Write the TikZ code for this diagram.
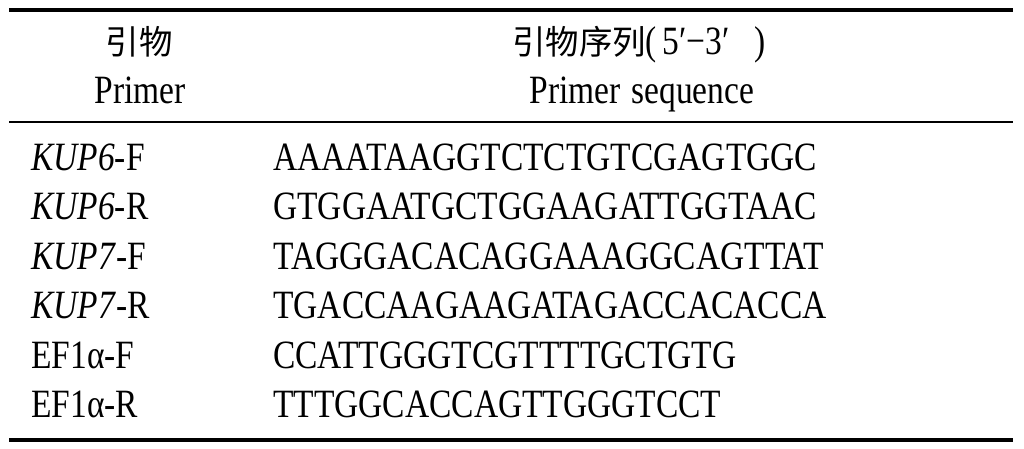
\documentclass[tikz,border=0pt]{standalone}
\usepackage{fontspec}
\setmainfont{Liberation Serif}
\newfontfamily\cjkfont{Noto Sans CJK SC}
\usepackage{graphicx}
\usepackage{tikz}
\usetikzlibrary{positioning}
\newcommand{\tall}[1]{\scalebox{1}[1.2]{#1}}

\begin{document}
\begin{tikzpicture}[line cap=butt,x=0.025cm,y=-0.025cm,
  cell/.style={inner sep=0pt,anchor=base west,font=\fontsize{23.8}{28}\selectfont},
  head/.style={inner sep=0pt,anchor=base,font=\fontsize{23.8}{28}\selectfont}]
\useasboundingbox (0,0) rectangle (1024,448);
% rules
\draw [line width=2.2pt] (9,10) -- (1013,10);
\draw [line width=1.3pt] (9,122) -- (1013,122);
\draw [line width=2.4pt] (9,440) -- (1013,440);
% header
\node [head] (h1) at (139,54) {\cjkfont 引物};
\node [head] (h2) at (140,103) {\tall{Primer}};
\node [head] (h3) at (639,54) {{\cjkfont 引物序列}\tall{(\,5′−3′\hspace{0.75em})}};
\node [head] (h4) at (642,103) {\tall{Primer\hspace{1.5pt} sequence}};
% rows
\node [cell] (p1) at (31,170) {\tall{\textit{KUP6}-F}};
\node [cell] (s1) at (273,170) {\tall{AAAATAAGGTCTCTGTCGAGTGGC}};
\node [cell] (p2) at (31,219.5) {\tall{\textit{KUP6}-R}};
\node [cell] (s2) at (273,219.5) {\tall{GTGGAATGCTGGAAGATTGGTAAC}};
\node [cell] (p3) at (31,269) {\tall{\textit{KUP7}-F}};
\node [cell] (s3) at (273,269) {\tall{TAGGGACACAGGAAAGGCAGTTAT}};
\node [cell] (p4) at (31,318.5) {\tall{\textit{KUP7}-R}};
\node [cell] (s4) at (273,318.5) {\tall{TGACCAAGAAGATAGACCACACCA}};
\node [cell] (p5) at (31,368) {\tall{EF1α-F}};
\node [cell] (s5) at (273,368) {\tall{CCATTGGGTCGTTTTGCTGTG}};
\node [cell] (p6) at (31,417.5) {\tall{EF1α-R}};
\node [cell] (s6) at (273,417.5) {\tall{TTTGGCACCAGTTGGGTCCT}};
\end{tikzpicture}
\end{document}
